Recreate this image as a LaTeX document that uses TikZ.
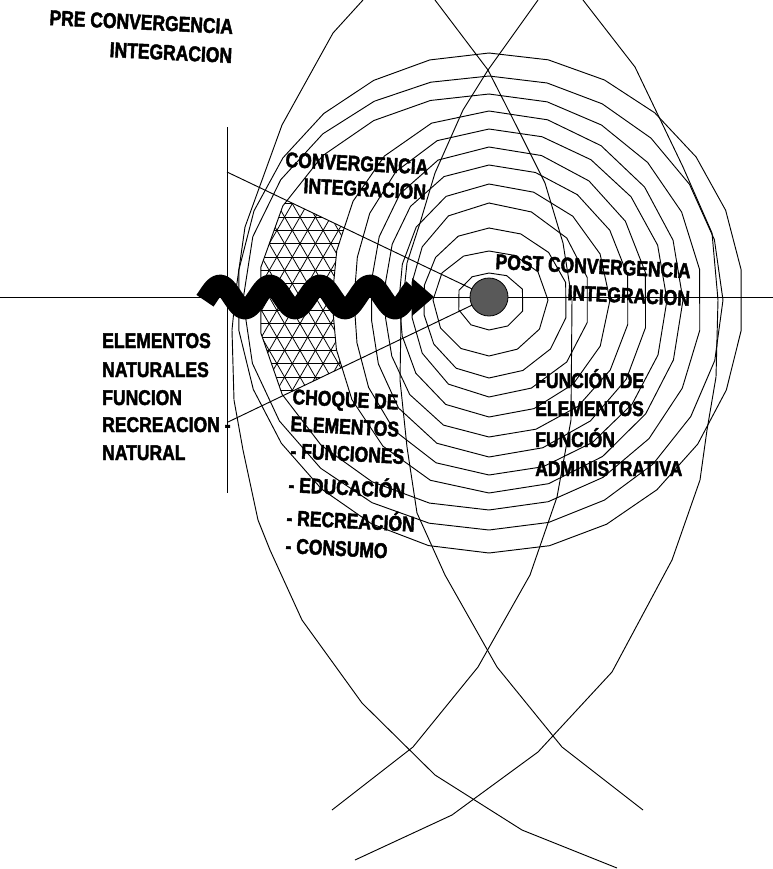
\documentclass[tikz,border=0pt]{standalone}
\usepackage{fontspec}
\newfontfamily\lblfont{Liberation Sans}[FakeStretch=0.82, UprightFont={* Bold}, FakeBold=2]
\begin{document}
\begin{tikzpicture}[x=0.75pt,y=-0.75pt,
  declare function={ringr(\qt,\qa,\qb,\qc,\qd)=(cos(\qt)>0 ? \qb : \qd)*cos(\qt)*cos(\qt)+(sin(\qt)>0 ? \qa : \qc)*sin(\qt)*sin(\qt);},
  ln/.style={line width=0.7pt, black, line join=miter},
  hatchln/.style={line width=0.6pt, black},
  lbl/.style={inner sep=0pt, font=\lblfont\fontsize{16}{18}\selectfont}]
\useasboundingbox (0,0) rectangle (773,869);
\fill[white] (0,0) rectangle (773,869);

% hatched band between ring 9 and ring 10 inside the wedge
\begin{scope}
  \clip (227,172) -- (489,297) -- (228,422) -- cycle;
  \clip plot[domain=90:450,samples=23] ({489+ringr(\x,206,213,210,231)*cos(\x)},{300-ringr(\x,206,213,210,231)*sin(\x)}) -- cycle;
  \foreach \j in {-12,...,12} \draw[hatchln] (150,{297+13.33*\j}) -- (520,{297+13.33*\j});
  \foreach \i in {-30,...,30} {
    \draw[hatchln] ({300+15.4*\i-100},{297-173.2}) -- ({300+15.4*\i+100},{297+173.2});
    \draw[hatchln] ({300+15.4*\i+100},{297-173.2}) -- ({300+15.4*\i-100},{297+173.2});
  }
  \fill[white] plot[domain=90:450,samples=21] ({489+ringr(\x,189,194,193,157)*cos(\x)},{300-ringr(\x,189,194,193,157)*sin(\x)}) -- cycle;
\end{scope}

% concentric rings
\foreach \ta/\rb/\bt/\lf/\ns in {27/36/30/32/11, 49/59/56/56/13, 72/79/78/66/15, 97/101/97/78/15,
  116/121/117/90/17, 135/141/137/104/19, 153/159/157/118/19, 171/178/175/135/21,
  189/194/193/157/21, 206/213/210/231/23, 224/234/230/246/25, 247/254/253/252/27}{
  \draw[ln] plot[domain=90:450,samples=\ns] ({489+ringr(\x,\ta,\rb,\bt,\lf)*cos(\x)},{300-ringr(\x,\ta,\rb,\bt,\lf)*sin(\x)}) -- cycle;
}

% two crossing fish-shaped outlines
\draw[ln] (363,0) -- (333,33) -- (282,125) -- (245,227) -- (236,290) -- (232,330) -- (234,400) -- (243,450) -- (258,520) -- (270,550) -- (302,620) -- (362,703) -- (435,775) -- (522,830) -- (617,868);
\draw[ln] (435,0) -- (488,70) -- (517,127) -- (545,183) -- (563,243) -- (572,300) -- (571,420) -- (557,497) -- (530,575) -- (478,667) -- (413,747) -- (332,810);
\draw[ln] (538,0) -- (488,70) -- (463,110) -- (435,173) -- (420,223) -- (407,263) -- (401,320) -- (400,380) -- (407,447) -- (417,513) -- (445,575) -- (497,667) -- (562,747) -- (643,810);
\draw[ln] (583,0) -- (635,67) -- (683,167) -- (712,233) -- (718,300) -- (716,377) -- (707,430) -- (700,480) -- (672,560) -- (612,672) -- (538,752) -- (452,815) -- (355,860);

% axes and wedge lines
\coordinate (ctr) at (489,297);
\coordinate (vtop) at (227,127);
\coordinate (vbot) at (227,493);
\coordinate (utop) at (227,172);
\coordinate (ubot) at (228,422);
\coordinate (axl) at (0,297);
\coordinate (axr) at (773,297);
\draw[ln] (axl) -- (axr);
\draw[ln] (vtop) -- (vbot);
\draw[ln] (utop) -- (ctr);
\draw[ln] (ubot) -- (ctr);

% wavy arrow
\draw[line width=15.5pt, black] plot[domain=205:414, samples=150] (\x,{297-12*cos(7.2*(\x-220))});
\fill[black] (412,278) -- (434,297) -- (412,316) -- cycle;

% centre dot
\node[circle, draw=black, fill=black!65, line width=0.6pt, minimum size=28.5pt, inner sep=0pt] (dot) at (ctr) {};

% labels
\node[lbl, anchor=base east, rotate=-2.8] (pre1) at (233,34) {PRE CONVERGENCIA};
\node[lbl, anchor=base east, rotate=-2.8] (pre2) at (232,63) {INTEGRACION};
\node[lbl, anchor=base west, rotate=-3] (conv1) at (285,167) {CONVERGENCIA};
\node[lbl, anchor=base west, rotate=-3] (conv2) at (303,193) {INTEGRACION};
\node[lbl, anchor=base west, rotate=-2.7] (post1) at (495,269) {POST CONVERGENCIA};
\node[lbl, anchor=base west, rotate=-2.7] (post2) at (567,300) {INTEGRACION};

\node[lbl, anchor=base west] (nat1) at (102,348) {ELEMENTOS};
\node[lbl, anchor=base west] (nat2) at (102,377) {NATURALES};
\node[lbl, anchor=base west] (nat3) at (102,405) {FUNCION};
\node[lbl, anchor=base west] (nat4) at (102,432) {RECREACION -};
\node[lbl, anchor=base west] (nat5) at (102,460) {NATURAL};

\node[lbl, anchor=base west, rotate=-3] (cho1) at (292,404) {CHOQUE DE};
\node[lbl, anchor=base west, rotate=-3] (cho2) at (290,431) {ELEMENTOS};
\node[lbl, anchor=base west, rotate=-3] (cho3) at (290,458) {- FUNCIONES};
\node[lbl, anchor=base west, rotate=-3] (cho4) at (288,492) {- EDUCACIÓN};
\node[lbl, anchor=base west, rotate=-3] (cho5) at (286,525) {- RECREACIÓN};
\node[lbl, anchor=base west, rotate=-3] (cho6) at (285,553) {- CONSUMO};

\node[lbl, anchor=base west] (adm1) at (535,388) {FUNCIÓN DE};
\node[lbl, anchor=base west] (adm2) at (535,416) {ELEMENTOS};
\node[lbl, anchor=base west] (adm3) at (535,447) {FUNCIÓN};
\node[lbl, anchor=base west] (adm4) at (535,476) {ADMINISTRATIVA};
\end{tikzpicture}
\end{document}
